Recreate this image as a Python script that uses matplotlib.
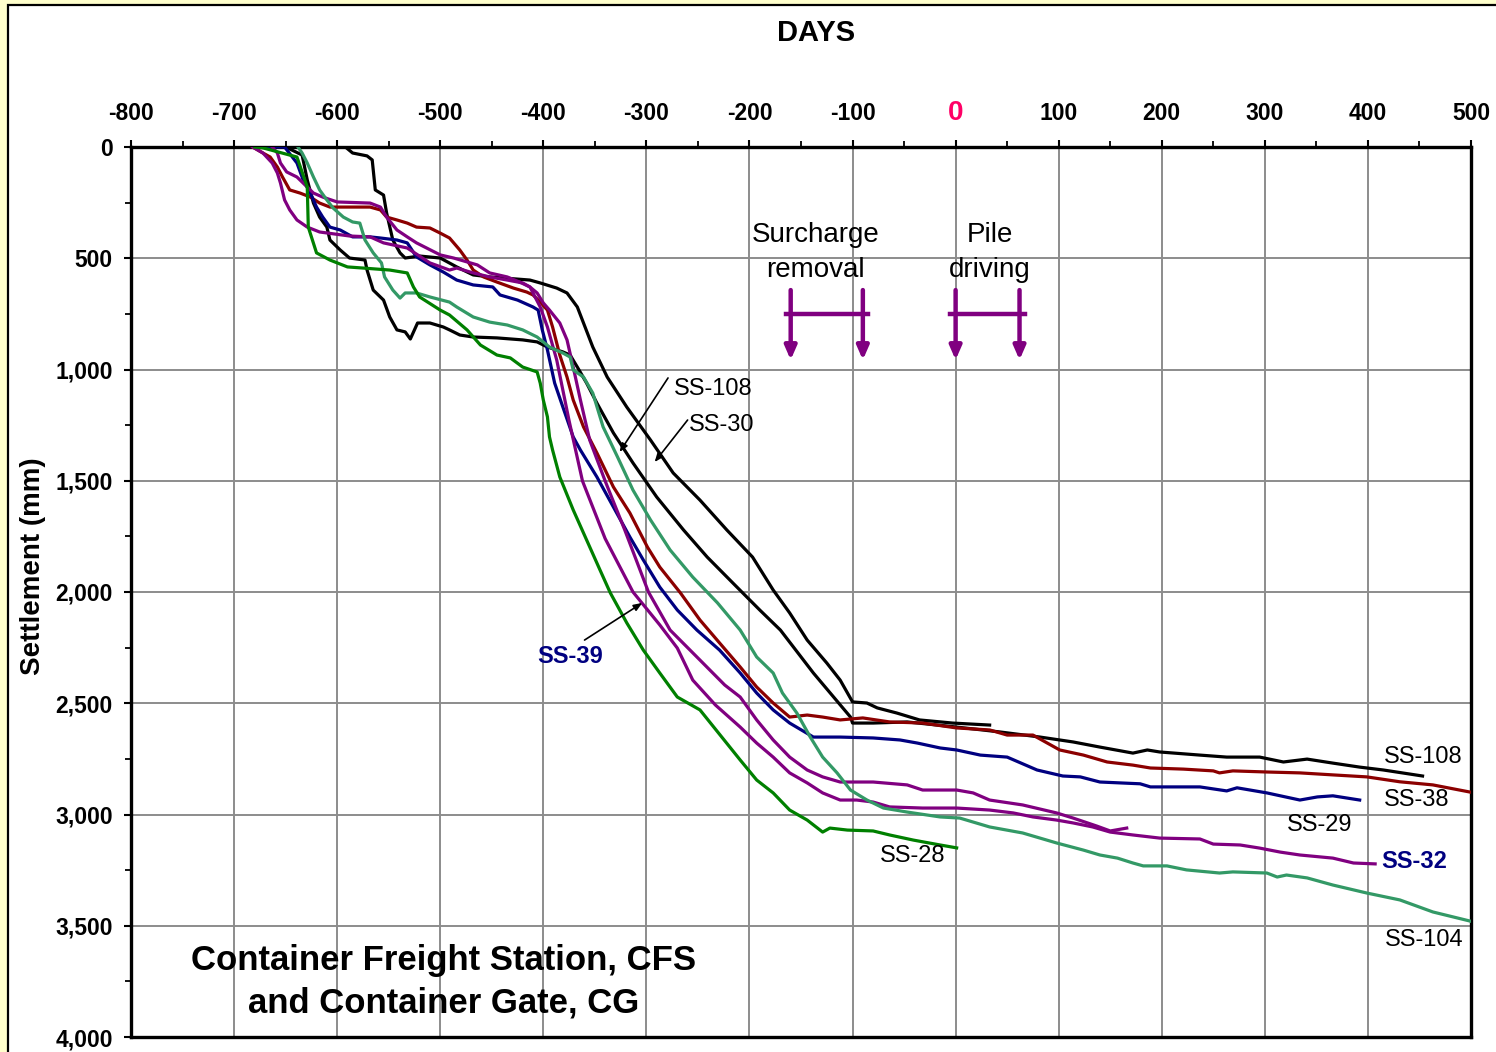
import matplotlib
matplotlib.use("Agg")
import matplotlib.pyplot as plt
from matplotlib.patches import Rectangle
from matplotlib.ticker import MultipleLocator
import numpy as np

plt.rcParams['font.family'] = ['Liberation Sans', 'DejaVu Sans']
plt.rcParams['axes.unicode_minus'] = False

# ---- data: days vs settlement (mm) ----
ss108_days = [-650, -634, -629, -623, -617, -610, -607, -597, -588, -573, -571, -565, -555, -549,
              -542, -534, -529, -522, -510, -497, -491, -481, -468, -445, -420, -406, -396, -381,
              -374, -367, -358, -348, -332, -313, -290, -264, -241, -216, -190, -170, -138, -102,
              -100, -80, -47, 1, 43, 82, 114, 140, 172, 186, 198, 237, 263, 295, 318, 341, 366,
              392, 415, 453]
ss108_mm = [0, 36, 148, 252, 315, 360, 418, 463, 499, 508, 553, 643, 688, 764,
            822, 831, 863, 791, 791, 809, 822, 845, 854, 858, 867, 876, 899, 921,
            935, 989, 1061, 1151, 1285, 1420, 1573, 1721, 1843, 1960, 2081, 2171, 2364, 2562,
            2589, 2589, 2584, 2607, 2629, 2652, 2674, 2697, 2724, 2710, 2719, 2733, 2742, 2742, 2764, 2751, 2769,
            2787, 2800, 2827]

ss30_days = [-592, -585, -571, -566, -563, -555, -552, -546, -539, -534, -520, -500, -484, -468,
             -452, -413, -403, -387, -377, -367, -361, -352, -338, -319, -296, -274, -248, -222,
             -197, -177, -161, -144, -125, -112, -100, -86, -76, -57, -35, -3, 33]
ss30_mm = [0, 27, 40, 58, 193, 216, 297, 418, 476, 499, 490, 499, 539, 575,
           584, 598, 611, 634, 656, 719, 791, 899, 1034, 1169, 1317, 1465, 1587, 1721,
           1843, 1991, 2094, 2216, 2319, 2396, 2494, 2499, 2521, 2544, 2575, 2589, 2598]

ss38_days = [-682, -672, -665, -658, -653, -646, -636, -626, -617, -607, -590, -568, -558, -552,
             -542, -532, -523, -510, -500, -491, -481, -474, -468, -458, -445, -429, -416, -410,
             -403, -396, -391, -384, -377, -371, -361, -348, -332, -316, -299, -287, -267, -248,
             -229, -209, -193, -177, -161, -144, -129, -112, -90, -64, -32, 1, 33, 50, 75, 101,
             124, 147, 172, 189, 221, 250, 256, 269, 302, 334, 366, 399, 431, 463, 500]
ss38_mm = [0, 27, 45, 90, 135, 193, 207, 225, 252, 270, 270, 270, 283, 315,
           328, 342, 360, 364, 387, 409, 463, 508, 553, 584, 607, 634, 652, 665,
           697, 733, 809, 935, 1034, 1137, 1258, 1375, 1528, 1645, 1798, 1888, 2004, 2126,
           2229, 2337, 2427, 2499, 2562, 2553, 2562, 2575, 2566, 2584, 2589, 2611, 2620, 2643, 2643, 2710,
           2733, 2764, 2778, 2791, 2796, 2804, 2813, 2804, 2809, 2813, 2822, 2831, 2853, 2867, 2900]

ss29_days = [-680, -651, -639, -633, -626, -620, -614, -607, -597, -585, -568, -558, -542, -532,
             -523, -510, -497, -484, -468, -449, -442, -425, -410, -405, -401, -396, -389, -381,
             -371, -364, -348, -332, -316, -303, -287, -270, -251, -229, -209, -193, -177, -161,
             -138, -112, -80, -54, -37, -15, 1, 24, 50, 79, 104, 121, 140, 179, 189, 237, 263,
             273, 302, 334, 351, 366, 392]
ss29_mm = [0, 0, 72, 148, 207, 270, 315, 360, 373, 404, 404, 409, 418, 431,
           494, 530, 562, 598, 620, 629, 665, 688, 719, 733, 822, 912, 1061, 1169,
           1303, 1362, 1483, 1618, 1753, 1856, 1978, 2081, 2171, 2261, 2364, 2454, 2530, 2589,
           2652, 2652, 2656, 2665, 2679, 2701, 2710, 2733, 2742, 2800, 2827, 2831, 2854, 2862, 2876, 2876, 2894,
           2880, 2903, 2935, 2921, 2916, 2935]

ss32_days = [-682, -672, -663, -658, -655, -651, -646, -639, -629, -617, -588, -568, -555, -532,
             -510, -491, -484, -468, -452, -435, -420, -413, -403, -396, -387, -375, -362, -340,
             -313, -287, -270, -255, -233, -209, -193, -177, -161, -144, -129, -112, -96, -80,
             -64, -32, 1, 33, 56, 75, 98, 114, 133, 150, 172, 198, 237, 250, 276, 295, 315, 334,
             366, 386, 407]
ss32_mm = [0, 27, 72, 117, 162, 238, 283, 328, 360, 382, 400, 404, 431, 454,
           521, 553, 544, 566, 584, 598, 611, 629, 719, 809, 957, 1230, 1501, 1760,
           2000, 2148, 2252, 2396, 2508, 2607, 2679, 2742, 2813, 2858, 2903, 2935, 2935, 2944,
           2966, 2971, 2971, 2980, 2993, 3011, 3025, 3038, 3056, 3079, 3092, 3106, 3110, 3133, 3137, 3151, 3169, 3182,
           3196, 3218, 3222]

ss32b_days = [-663, -658, -655, -649, -639, -629, -623, -614, -600, -568, -558, -552, -542, -532,
              -523, -500, -487, -464, -452, -435, -423, -413, -406, -400, -394, -384, -377, -371,
              -364, -355, -340, -321, -298, -277, -248, -224, -209, -193, -177, -161, -144, -129,
              -112, -80, -47, -32, 1, 17, 33, 65, 98, 114, 137, 150, 166]
ss32b_mm = [0, 27, 72, 112, 135, 180, 207, 225, 247, 252, 270, 315, 373, 404,
            431, 485, 499, 530, 566, 584, 607, 629, 656, 701, 733, 791, 867, 989,
            1137, 1317, 1501, 1721, 2000, 2171, 2306, 2418, 2472, 2575, 2665, 2742, 2800, 2831,
            2854, 2854, 2867, 2890, 2890, 2903, 2935, 2957, 2993, 3016, 3052, 3074, 3061]

ss104_days = [-638, -634, -629, -623, -617, -610, -604, -594, -585, -578, -573, -565, -557, -554,
              -546, -539, -534, -523, -510, -491, -484, -468, -452, -435, -420, -406, -394, -381,
              -374, -371, -361, -352, -342, -328, -313, -296, -277, -255, -231, -209, -193, -177,
              -168, -154, -141, -129, -115, -102, -86, -70, -47, -15, 4, 33, 65, 98, 124, 140,
              157, 172, 182, 205, 224, 256, 269, 302, 312, 321, 341, 366, 399, 431, 463, 500]
ss104_mm = [0, 27, 72, 135, 193, 238, 274, 315, 337, 342, 418, 476, 521, 584,
            643, 679, 656, 656, 674, 697, 719, 764, 787, 800, 822, 854, 899, 926,
            944, 1002, 1034, 1106, 1258, 1393, 1542, 1676, 1811, 1933, 2049, 2171, 2292, 2364,
            2454, 2544, 2652, 2742, 2813, 2890, 2935, 2971, 2989, 3011, 3016, 3056, 3083, 3128, 3160, 3182,
            3196, 3218, 3231, 3231, 3249, 3263, 3258, 3263, 3281, 3272, 3285, 3317, 3353, 3384, 3438, 3480]

ss28_days = [-680, -672, -639, -629, -628, -620, -607, -590, -575, -549, -532, -526, -520, -500,
             -491, -474, -461, -445, -432, -420, -406, -403, -400, -396, -394, -391, -384, -371,
             -358, -345, -335, -319, -303, -287, -270, -248, -209, -193, -177, -161, -144, -129,
             -122, -105, -80, -64, -41, -15, 1]
ss28_mm = [0, 4, 45, 180, 360, 476, 508, 539, 544, 553, 566, 629, 674, 733,
           755, 822, 890, 935, 948, 989, 1011, 1061, 1137, 1213, 1303, 1362, 1483, 1631,
           1766, 1901, 2004, 2139, 2261, 2364, 2472, 2530, 2755, 2845, 2903, 2980, 3025, 3079,
           3061, 3070, 3074, 3092, 3115, 3137, 3150]

series = [
    (ss108_days, ss108_mm, '#000000'),
    (ss30_days, ss30_mm, '#000000'),
    (ss38_days, ss38_mm, '#8B0000'),
    (ss29_days, ss29_mm, '#000080'),
    (ss32_days, ss32_mm, '#800080'),
    (ss32b_days, ss32b_mm, '#800080'),
    (ss104_days, ss104_mm, '#339966'),
    (ss28_days, ss28_mm, '#008000'),
]

# event markers (days) and their bracket depth (mm)
surcharge_days = [-160, -90]
pile_days = [0, 62]
arrow_top, arrow_tip, bar_mm = 643, 957, 751

fig = plt.figure(figsize=(14.96, 10.52), dpi=100, facecolor='#FFFFCC')
fig.patches.append(Rectangle((8 / 1496, -0.05), 1.1, 1.05 - 5 / 1052, transform=fig.transFigure,
                             facecolor='white', edgecolor='black', lw=1.6, zorder=-10))

ax = fig.add_axes([131 / 1496, 1 - 1037 / 1052, 1340 / 1496, 890 / 1052])
ax.set_xlim(-800, 500)
ax.set_ylim(4000, 0)

for d, m, c in series:
    ax.plot(d, m, color=c, lw=2.3, solid_joinstyle='round', zorder=3)

# axes styling
ax.xaxis.tick_top()
ax.xaxis.set_label_position('top')
xt = np.arange(-800, 501, 100)
ax.set_xticks(xt, ['' if v == 0 else str(v) for v in xt])
ax.xaxis.set_minor_locator(MultipleLocator(50))
yt = np.arange(0, 4001, 500)
ax.set_yticks(yt, [f'{v:,}' for v in yt])
ax.yaxis.set_minor_locator(MultipleLocator(250))
ax.tick_params(which='major', direction='out', length=5, width=1.5, labelsize=16.5, colors='black')
ax.tick_params(axis='x', which='major', pad=11)
ax.tick_params(axis='y', which='major', pad=8)
ax.tick_params(which='minor', direction='out', length=4, width=1.3)
for lab in ax.get_xticklabels() + ax.get_yticklabels():
    lab.set_fontweight('bold')
# the zero day label is pink and a bit larger/lower than the rest
ax.text(0, 1 + 34 / 890, '0', transform=ax.get_xaxis_transform(), ha='center', va='center',
        fontsize=20, fontweight='bold', color='#FF0066')
for s in ax.spines.values():
    s.set_linewidth(2.4)
ax.grid(True, which='major', color='#8C8C8C', lw=1.4, zorder=1)
ax.set_axisbelow(True)

fig.text(816 / 1496, 1 - 33 / 1052, 'DAYS', ha='center', va='center', fontsize=21, fontweight='bold')
fig.text(33 / 1496, 1 - 566 / 1052, 'Settlement (mm)', ha='center', va='center', rotation=90,
         fontsize=20, fontweight='bold')

# surcharge / pile driving brackets
for pair in (surcharge_days, pile_days):
    for d in pair:
        ax.annotate('', xy=(d, arrow_tip), xytext=(d, arrow_top),
                    arrowprops=dict(arrowstyle='-|>,head_length=0.8,head_width=0.35',
                                    color='#800080', lw=3.2, shrinkA=0, shrinkB=0), zorder=4)
    ax.plot([pair[0] - 5, pair[1] + 5], [bar_mm, bar_mm], color='#800080', lw=3.2, zorder=4)
ax.text(-136, 472, 'Surcharge\nremoval', ha='center', va='center', fontsize=20, linespacing=1.45)
ax.text(33, 472, 'Pile\ndriving', ha='center', va='center', fontsize=20, linespacing=1.45)

# labels with leader arrows
arr = dict(arrowstyle='-|>,head_length=0.5,head_width=0.2', color='black', lw=1.2, shrinkA=0, shrinkB=0)
ax.annotate('', xy=(-326, 1371), xytext=(-279, 1038), arrowprops=arr)
ax.text(-235, 1088, 'SS-108', ha='center', va='center', fontsize=17)
ax.annotate('', xy=(-292, 1416), xytext=(-260, 1227), arrowprops=arr)
ax.text(-227, 1249, 'SS-30', ha='center', va='center', fontsize=17)
ax.annotate('', xy=(-304, 2049), xytext=(-360, 2216), arrowprops=arr)
ax.text(-374, 2292, 'SS-39', ha='center', va='center', fontsize=17, fontweight='bold', color='#000080')

# end-of-line labels
ax.text(454, 2742, 'SS-108', ha='center', va='center', fontsize=17)
ax.text(447, 2935, 'SS-38', ha='center', va='center', fontsize=17)
ax.text(353, 3047, 'SS-29', ha='center', va='center', fontsize=17)
ax.text(445, 3213, 'SS-32', ha='center', va='center', fontsize=17, fontweight='bold', color='#000080')
ax.text(455, 3564, 'SS-104', ha='center', va='center', fontsize=17)
ax.text(-42, 3187, 'SS-28', ha='center', va='center', fontsize=17)

ax.text(-497, 3752, 'Container Freight Station, CFS\nand Container Gate, CG', ha='center', va='center',
        fontsize=25, fontweight='bold', linespacing=1.38)

fig.savefig('out.png', dpi=100, facecolor=fig.get_facecolor())
